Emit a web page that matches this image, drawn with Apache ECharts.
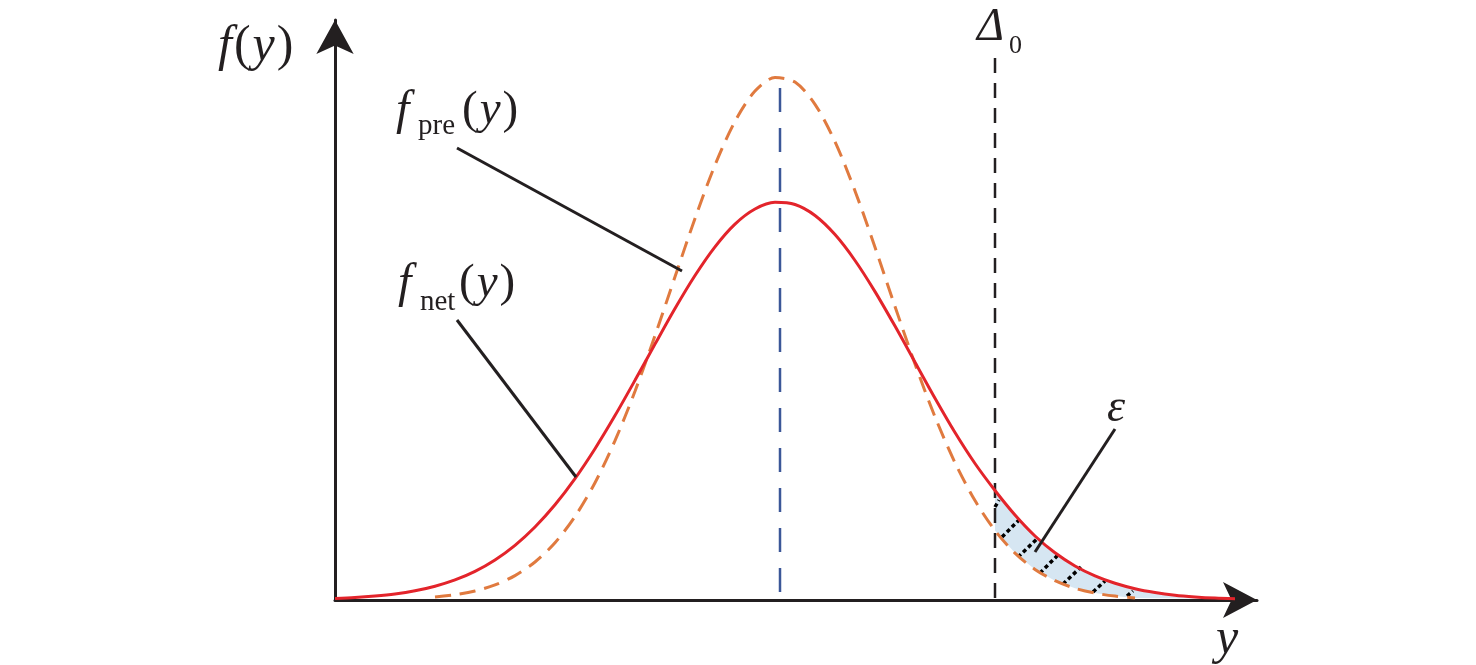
<!DOCTYPE html>
<html><head><meta charset="utf-8">
<script src="https://cdn.jsdelivr.net/npm/echarts/dist/echarts.min.js"></script>
<style>html,body{margin:0;padding:0;background:#fff}#c{width:1476px;height:665px}</style>
</head><body><div id="c"></div>
<script>
// sample positions along y (horizontal axis)
const xs = [0,0.2,0.4,0.6,0.8,1.0,1.2,1.4,1.6,1.8,2.0,2.2,2.4,2.6,2.8,3.0,3.2,3.4,3.6,3.8,4.0,4.2,4.4,4.6,4.8,5.0,5.2,5.4,5.6,5.8,6.0,6.2,6.4,6.6,6.8,7.0,7.2,7.4,7.6,7.8,8.0,8.2,8.4,8.6,8.8,9.0];
// f_net(y) : solid red curve
const netY = [0.015,0.024,0.039,0.060,0.092,0.138,0.201,0.287,0.401,0.547,0.730,0.952,1.214,1.513,1.844,2.197,2.559,2.915,3.245,3.532,3.759,3.910,3.977,3.955,3.845,3.654,3.395,3.084,2.739,2.378,2.018,1.675,1.365,1.095,0.850,0.640,0.472,0.340,0.241,0.167,0.113,0.075,0.048,0.031,0.019,0.012];
// f_pre(y) : dashed orange curve (null = not visible)
const preY = [null,null,null,null,null,0.029,0.052,0.090,0.151,0.244,0.380,0.573,0.835,1.173,1.593,2.088,2.644,3.232,3.815,4.349,4.787,5.089,5.224,5.179,4.957,4.583,4.091,3.527,2.936,2.360,1.832,1.373,0.994,0.695,0.469,0.306,0.193,0.117,0.069,0.039,0.021,null,null,null,null,null];
// vertical reference lines
const meanX = 4.45, meanTop = 5.12;
const delta0X = 6.6, delta0Top = 5.42;
// hatch marks inside the ε region: [x0, y0, x1, y1]
const hatchX0 = [6.60,6.67,6.83,7.05,7.28,7.58,7.92];
const hatchY0 = [0.93,0.63,0.43,0.27,0.16,0.08,0.04];
const hatchX1 = [6.64,6.85,7.03,7.23,7.46,7.70,7.98];
const hatchY1 = [1.00,0.81,0.62,0.45,0.33,0.19,0.09];
// leader lines for annotations [x, y] in data units
const leaderFrom = [[1.22,4.52],[1.22,2.80],[7.80,1.71]];
const leaderTo   = [[3.47,3.29],[2.41,1.23],[7.00,0.48]];

const INK = '#231f20';
const chart = echarts.init(document.getElementById('c'), null, {renderer:'canvas'});
const netData = xs.map((x,i)=>[x, netY[i]]);
const preData = xs.map((x,i)=>[x, preY[i]]).filter(p=>p[1]!==null);
const hatchData = hatchX0.map((x,i)=>[x, hatchY0[i], hatchX1[i], hatchY1[i]]);

const axisCommon = {
  type:'value', min:0,
  axisTick:{show:false}, axisLabel:{show:false}, splitLine:{show:false}
};
chart.setOption({
  animation:false,
  backgroundColor:'#fff',
  grid:{left:335, right:219, top:20, bottom:65},
  xAxis:Object.assign({}, axisCommon, {max:9.22,
    axisLine:{show:true, onZero:false, symbol:['none','arrow'], symbolSize:[27,34], lineStyle:{color:INK, width:3}}}),
  yAxis:Object.assign({}, axisCommon, {max:5.80,
    axisLine:{show:true, onZero:false, symbol:['none','arrow'], symbolSize:[28,34], lineStyle:{color:INK, width:3}}}),
  series:[
    { type:'custom', z:1, silent:true, data:[[delta0X,0]],
      renderItem:(params, api)=>{
        const pts=[];
        for(let i=0;i<xs.length;i++) if(xs[i]>=delta0X-1e-9) pts.push(api.coord([xs[i], netY[i]]));
        for(let i=xs.length-1;i>=0;i--) if(xs[i]>=delta0X-1e-9 && preY[i]!==null) pts.push(api.coord([xs[i], preY[i]]));
        return {type:'polygon', shape:{points:pts, smooth:0}, style:{fill:'#d6e6f2'}};
      }
    },
    { type:'custom', z:2, silent:true, data:hatchData,
      renderItem:(params, api)=>{
        const a=api.coord([api.value(0),api.value(1)]);
        const b=api.coord([api.value(2),api.value(3)]);
        return {type:'line', shape:{x1:a[0],y1:a[1],x2:b[0],y2:b[1]},
          style:{stroke:'#000', lineWidth:3.5, lineDash:[4,3]}};
      }
    },
    { type:'line', z:3, data:[[meanX,meanTop],[meanX,0]], showSymbol:false, silent:true,
      lineStyle:{color:'#3b5798', width:2.5, type:[24,16]} },
    { type:'line', z:3, data:[[delta0X,delta0Top],[delta0X,0]], showSymbol:false, silent:true,
      lineStyle:{color:INK, width:2.5, type:[15,10]} },
    { type:'line', z:4, data:preData, showSymbol:false, smooth:0.3, silent:true,
      lineStyle:{color:'#e07a3f', width:3, type:[16,9]} },
    { type:'line', z:5, data:netData, showSymbol:false, smooth:0.3, silent:true,
      lineStyle:{color:'#e3242b', width:3} }
  ]
});

const serif = '"Liberation Serif","Times New Roman",serif';
function richTxt(x,y,text,size){
  const rich = {
    i:{fontFamily:serif, fontStyle:'italic', fontSize:size, fill:INK, padding:[0,2,0,0]},
    r:{fontFamily:serif, fontSize:size, fill:INK, padding:[0,2,0,0]}
  };
  return {type:'text', x:x, y:y, z:10, silent:true,
    style:{text:text, rich:rich, fontFamily:serif, fontSize:size, fill:INK, verticalAlign:'middle', align:'left'}};
}
function txt(x,y,text,size,italic){
  return {type:'text', x:x, y:y, z:10, silent:true,
    style:{text:text, fontFamily:serif, fontSize:size, fontStyle:italic?'italic':'normal', fill:INK, verticalAlign:'middle', align:'left'}};
}
const g = [];
leaderFrom.forEach((p,i)=>{
  const a = chart.convertToPixel({gridIndex:0}, p);
  const b = chart.convertToPixel({gridIndex:0}, leaderTo[i]);
  g.push({type:'line', z:8, silent:true, shape:{x1:a[0],y1:a[1],x2:b[0],y2:b[1]}, style:{stroke:INK, lineWidth:3}});
});
g.push(richTxt(218,47,'{i|f}{r|(}{i|y}{r|)}',50));
g.push(txt(396,111,'f',48,true));
g.push(txt(418,126,'pre',29,false));
g.push(richTxt(462,111,'{r|(}{i|y}{r|)}',47));
g.push(txt(398,284,'f',48,true));
g.push(txt(420,302,'net',29,false));
g.push(richTxt(459,284,'{r|(}{i|y}{r|)}',47));
g.push(txt(977,28,'Δ',46,true));
g.push(txt(1009,46,'0',26,false));
g.push(txt(1107,409,'ε',46,true));
g.push(txt(1216,640,'y',50,true));
chart.setOption({graphic:g});
</script>
</body></html>
